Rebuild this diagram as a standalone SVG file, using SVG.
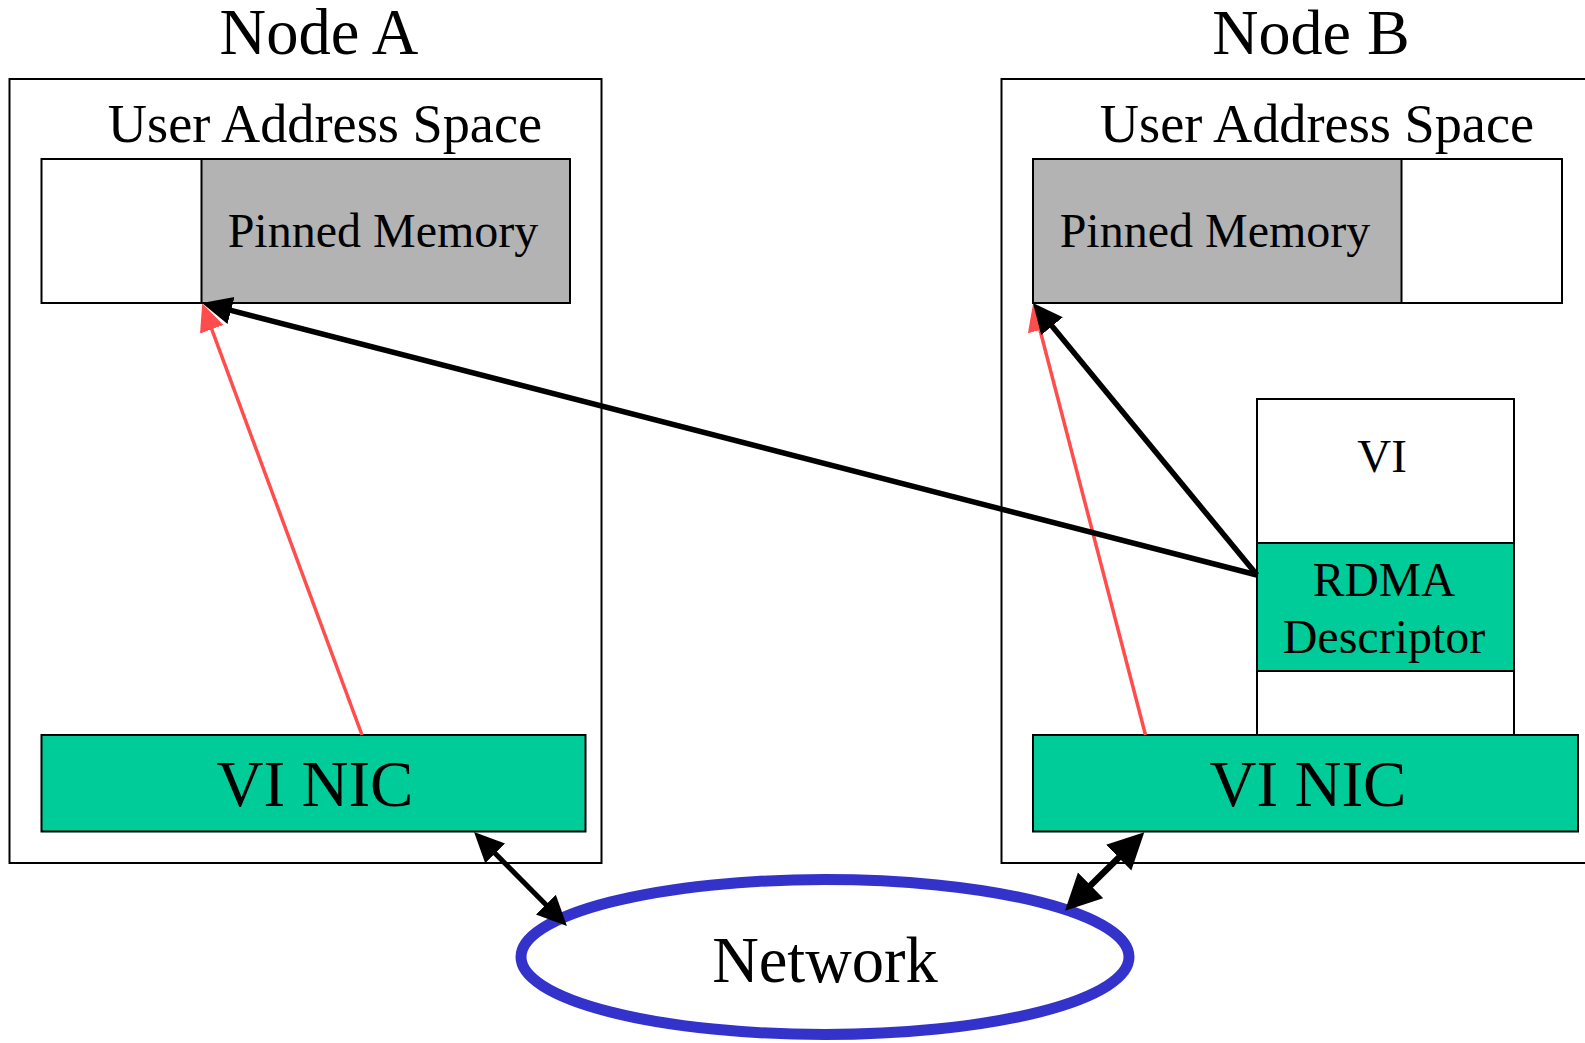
<svg xmlns="http://www.w3.org/2000/svg" width="1585" height="1043" viewBox="0 0 1585 1043">
<style>
text{font-family:"Liberation Serif","Times New Roman",serif;fill:#000;text-anchor:middle}
.box{fill:#fff;stroke:#000;stroke-width:2}
.pin{fill:#b3b3b3;stroke:#000;stroke-width:2}
.grn{fill:#00cc99;stroke:#000;stroke-width:2}
.blk{stroke:#000;stroke-width:5.5;fill:none}
.red{stroke:#ff4d4d;stroke-width:3.5;fill:none}
</style>
<defs>
<marker id="ab" markerUnits="userSpaceOnUse" markerWidth="32" markerHeight="30" refX="15" refY="14" orient="auto-start-reverse" viewBox="0 0 32 30">
<path d="M0,0 L30,14 L0,28 z" fill="#000"/>
</marker>
<marker id="ab2" markerUnits="userSpaceOnUse" markerWidth="38" markerHeight="38" refX="18" refY="18" orient="auto-start-reverse" viewBox="0 0 38 38">
<path d="M0,0 L36,18 L0,36 z" fill="#000"/>
</marker>
<marker id="ar" markerUnits="userSpaceOnUse" markerWidth="30" markerHeight="28" refX="14" refY="12.5" orient="auto" viewBox="0 0 30 28">
<path d="M0,0 L27.5,12.5 L0,25 z" fill="#ff4d4d"/>
</marker>
</defs>
<g id="nodeA">
<text x="319" y="54" font-size="64.5">Node A</text>
<rect class="box" x="9.5" y="79" width="592" height="784"/>
<text x="325" y="142" font-size="54.3">User Address Space</text>
<g id="memA">
<rect class="box" x="41.5" y="159" width="528.5" height="144"/>
<rect class="pin" x="201.5" y="159" width="368.5" height="144"/>
<text x="383" y="247" font-size="48">Pinned Memory</text>
</g>
<g id="nicA">
<rect class="grn" x="41.5" y="735" width="544" height="96.5"/>
<text x="315" y="806" font-size="65">VI NIC</text>
</g>
</g>
<g id="nodeB">
<text x="1311" y="54" font-size="64">Node B</text>
<rect class="box" x="1001.5" y="79" width="600" height="784"/>
<text x="1317" y="142" font-size="54.3">User Address Space</text>
<g id="memB">
<rect class="box" x="1033" y="159" width="529" height="144"/>
<rect class="pin" x="1033" y="159" width="368.5" height="144"/>
<text x="1215" y="247" font-size="48">Pinned Memory</text>
</g>
<g id="vi">
<rect class="box" x="1257" y="399" width="257" height="336"/>
<text x="1382" y="472" font-size="47">VI</text>
</g>
<g id="rdma">
<rect class="grn" x="1257" y="543" width="257" height="128"/>
<text x="1384" y="596" font-size="47.5">RDMA</text>
<text x="1384" y="653" font-size="48">Descriptor</text>
</g>
<g id="nicB">
<rect class="grn" x="1033" y="735" width="545" height="96.5"/>
<text x="1308" y="806" font-size="65">VI NIC</text>
</g>
</g>
<g id="network">
<ellipse cx="825" cy="957" rx="304" ry="77.5" fill="#fff" stroke="#3333cc" stroke-width="11"/>
<text x="825" y="982" font-size="64.5">Network</text>
</g>
<g id="connectors">
<line class="red" x1="362" y1="735" x2="206.9" y2="316.1" marker-end="url(#ar)"/>
<line class="red" x1="1145.5" y1="735" x2="1036.5" y2="316.5" marker-end="url(#ar)"/>
<line class="blk" x1="1257" y1="575" x2="216.5" y2="306.7" marker-end="url(#ab)"/>
<line class="blk" x1="1257" y1="575" x2="1042.5" y2="314.6" marker-end="url(#ab)"/>
<line class="blk" style="stroke-width:5" x1="484.6" y1="842.7" x2="556.4" y2="915.3" marker-start="url(#ab)" marker-end="url(#ab)"/>
<line class="blk" style="stroke-width:6.5" x1="1131.5" y1="845" x2="1077.8" y2="898" marker-start="url(#ab2)" marker-end="url(#ab2)"/>
</g>
</svg>
